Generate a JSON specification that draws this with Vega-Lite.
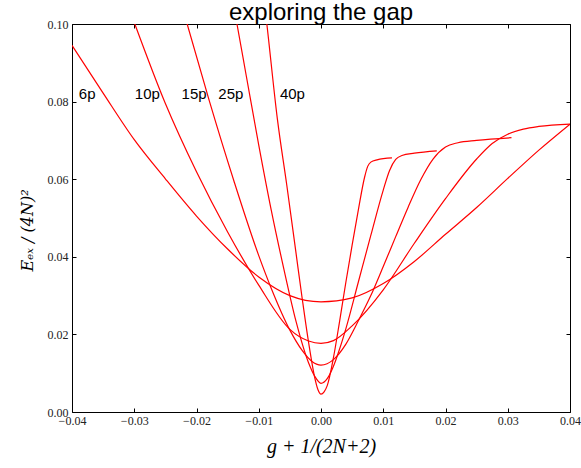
{
  "$schema": "https://vega.github.io/schema/vega-lite/v6.json",
  "width": 498,
  "height": 388,
  "autosize": {"type": "none"},
  "padding": {"left": 72, "top": 24, "right": 11, "bottom": 56},
  "background": "white",
  "config": {
    "view": {"stroke": "black", "strokeWidth": 1},
    "axis": {
      "grid": false,
      "domain": false,
      "tickSize": -4,
      "tickColor": "black",
      "minExtent": 0,
      "labelFont": "Liberation Serif",
      "labelFontSize": 12,
      "labelColor": "#222222",
      "labelFlush": false,
      "labelOverlap": false
    }
  },
  "title": {
    "text": "exploring the gap",
    "font": "Liberation Sans",
    "fontSize": 24,
    "fontWeight": "normal",
    "color": "black",
    "anchor": "middle",
    "baseline": "bottom",
    "offset": -31
  },
  "datasets": {
    "curves": [
      {"series": "6p", "x": -0.040, "y": 0.0945},
      {"series": "6p", "x": -0.035, "y": 0.0822},
      {"series": "6p", "x": -0.030, "y": 0.0702},
      {"series": "6p", "x": -0.025, "y": 0.0601},
      {"series": "6p", "x": -0.020, "y": 0.0505},
      {"series": "6p", "x": -0.015, "y": 0.0420},
      {"series": "6p", "x": -0.010, "y": 0.0348},
      {"series": "6p", "x": -0.005, "y": 0.0300},
      {"series": "6p", "x": 0.000, "y": 0.0284},
      {"series": "6p", "x": 0.005, "y": 0.0294},
      {"series": "6p", "x": 0.010, "y": 0.0331},
      {"series": "6p", "x": 0.015, "y": 0.0388},
      {"series": "6p", "x": 0.020, "y": 0.0458},
      {"series": "6p", "x": 0.025, "y": 0.0527},
      {"series": "6p", "x": 0.030, "y": 0.0602},
      {"series": "6p", "x": 0.035, "y": 0.0675},
      {"series": "6p", "x": 0.040, "y": 0.0742},

      {"series": "10p", "x": -0.032, "y": 0.1092},
      {"series": "10p", "x": -0.030, "y": 0.1004},
      {"series": "10p", "x": -0.025, "y": 0.0795},
      {"series": "10p", "x": -0.020, "y": 0.0619},
      {"series": "10p", "x": -0.015, "y": 0.0464},
      {"series": "10p", "x": -0.010, "y": 0.0327},
      {"series": "10p", "x": -0.005, "y": 0.0213},
      {"series": "10p", "x": -0.002, "y": 0.0183},
      {"series": "10p", "x": 0.000, "y": 0.0177},
      {"series": "10p", "x": 0.002, "y": 0.0184},
      {"series": "10p", "x": 0.005, "y": 0.0222},
      {"series": "10p", "x": 0.010, "y": 0.0315},
      {"series": "10p", "x": 0.015, "y": 0.0435},
      {"series": "10p", "x": 0.020, "y": 0.0550},
      {"series": "10p", "x": 0.025, "y": 0.0652},
      {"series": "10p", "x": 0.0275, "y": 0.0692},
      {"series": "10p", "x": 0.030, "y": 0.0716},
      {"series": "10p", "x": 0.0325, "y": 0.0729},
      {"series": "10p", "x": 0.035, "y": 0.0736},
      {"series": "10p", "x": 0.040, "y": 0.0742},

      {"series": "15p", "x": -0.0235, "y": 0.1115},
      {"series": "15p", "x": -0.0215, "y": 0.1000},
      {"series": "15p", "x": -0.018, "y": 0.0805},
      {"series": "15p", "x": -0.014, "y": 0.0596},
      {"series": "15p", "x": -0.010, "y": 0.0403},
      {"series": "15p", "x": -0.008, "y": 0.0319},
      {"series": "15p", "x": -0.005, "y": 0.0211},
      {"series": "15p", "x": -0.003, "y": 0.0158},
      {"series": "15p", "x": -0.0015, "y": 0.0131},
      {"series": "15p", "x": 0.000, "y": 0.0121},
      {"series": "15p", "x": 0.002, "y": 0.0135},
      {"series": "15p", "x": 0.004, "y": 0.0175},
      {"series": "15p", "x": 0.006, "y": 0.0235},
      {"series": "15p", "x": 0.008, "y": 0.0300},
      {"series": "15p", "x": 0.010, "y": 0.0375},
      {"series": "15p", "x": 0.012, "y": 0.0452},
      {"series": "15p", "x": 0.014, "y": 0.0528},
      {"series": "15p", "x": 0.016, "y": 0.0598},
      {"series": "15p", "x": 0.018, "y": 0.0652},
      {"series": "15p", "x": 0.020, "y": 0.0683},
      {"series": "15p", "x": 0.022, "y": 0.0694},
      {"series": "15p", "x": 0.025, "y": 0.0700},
      {"series": "15p", "x": 0.0306, "y": 0.0707},

      {"series": "25p", "x": -0.0145, "y": 0.1085},
      {"series": "25p", "x": -0.0135, "y": 0.1000},
      {"series": "25p", "x": -0.012, "y": 0.0866},
      {"series": "25p", "x": -0.010, "y": 0.0688},
      {"series": "25p", "x": -0.008, "y": 0.0521},
      {"series": "25p", "x": -0.006, "y": 0.0371},
      {"series": "25p", "x": -0.004, "y": 0.0233},
      {"series": "25p", "x": -0.002, "y": 0.0127},
      {"series": "25p", "x": -0.001, "y": 0.0092},
      {"series": "25p", "x": 0.000, "y": 0.0074},
      {"series": "25p", "x": 0.001, "y": 0.0086},
      {"series": "25p", "x": 0.002, "y": 0.0118},
      {"series": "25p", "x": 0.003, "y": 0.0163},
      {"series": "25p", "x": 0.004, "y": 0.0215},
      {"series": "25p", "x": 0.006, "y": 0.0335},
      {"series": "25p", "x": 0.008, "y": 0.0455},
      {"series": "25p", "x": 0.010, "y": 0.0572},
      {"series": "25p", "x": 0.011, "y": 0.0622},
      {"series": "25p", "x": 0.012, "y": 0.0651},
      {"series": "25p", "x": 0.013, "y": 0.0661},
      {"series": "25p", "x": 0.015, "y": 0.0667},
      {"series": "25p", "x": 0.0186, "y": 0.0673},

      {"series": "40p", "x": -0.0095, "y": 0.1110},
      {"series": "40p", "x": -0.0087, "y": 0.1000},
      {"series": "40p", "x": -0.007, "y": 0.0754},
      {"series": "40p", "x": -0.0055, "y": 0.0585},
      {"series": "40p", "x": -0.004, "y": 0.0408},
      {"series": "40p", "x": -0.003, "y": 0.0290},
      {"series": "40p", "x": -0.002, "y": 0.0180},
      {"series": "40p", "x": -0.001, "y": 0.0088},
      {"series": "40p", "x": -0.0005, "y": 0.0058},
      {"series": "40p", "x": 0.000, "y": 0.0046},
      {"series": "40p", "x": 0.0005, "y": 0.0052},
      {"series": "40p", "x": 0.001, "y": 0.0068},
      {"series": "40p", "x": 0.002, "y": 0.0140},
      {"series": "40p", "x": 0.003, "y": 0.0235},
      {"series": "40p", "x": 0.004, "y": 0.0335},
      {"series": "40p", "x": 0.005, "y": 0.0430},
      {"series": "40p", "x": 0.006, "y": 0.0521},
      {"series": "40p", "x": 0.007, "y": 0.0605},
      {"series": "40p", "x": 0.0075, "y": 0.0633},
      {"series": "40p", "x": 0.008, "y": 0.0644},
      {"series": "40p", "x": 0.009, "y": 0.0650},
      {"series": "40p", "x": 0.0114, "y": 0.0655}
    ],
    "labels": [
      {"label": "6p", "x": -0.0389, "y": 0.0807},
      {"label": "10p", "x": -0.0299, "y": 0.0807},
      {"label": "15p", "x": -0.0224, "y": 0.0807},
      {"label": "25p", "x": -0.0165, "y": 0.0807},
      {"label": "40p", "x": -0.0066, "y": 0.0807}
    ]
  },
  "layer": [
    {
      "data": {"name": "curves"},
      "mark": {"type": "line", "interpolate": "monotone", "clip": true, "color": "#ff0000", "strokeWidth": 1.2},
      "encoding": {
        "x": {
          "field": "x", "type": "quantitative",
          "scale": {"domain": [-0.04, 0.04], "nice": false, "zero": false},
          "axis": {
            "orient": "bottom",
            "values": [-0.04, -0.03, -0.02, -0.01, 0, 0.01, 0.02, 0.03, 0.04],
            "format": ".2f",
            "labelPadding": 7,
            "title": "g + 1/(2N+2)",
            "titleFont": "Liberation Serif",
            "titleFontStyle": "italic",
            "titleFontWeight": "normal",
            "titleFontSize": 20,
            "titleColor": "black",
            "titlePadding": 10
          }
        },
        "y": {
          "field": "y", "type": "quantitative",
          "scale": {"domain": [0, 0.1], "nice": false, "zero": false},
          "axis": {
            "orient": "left",
            "values": [0, 0.02, 0.04, 0.06, 0.08, 0.1],
            "format": ".2f",
            "labelPadding": 8,
            "title": "Eₑₓ / (4N)²",
            "titleFont": "DejaVu Serif",
            "titleFontStyle": "italic",
            "titleFontWeight": "normal",
            "titleFontSize": 16,
            "titleColor": "black",
            "titlePadding": 12,
            "titleY": 206
          }
        },
        "detail": {"field": "series"}
      }
    },
    {
      "data": {"name": "labels"},
      "mark": {"type": "text", "align": "left", "baseline": "alphabetic", "font": "Liberation Sans", "fontSize": 15, "color": "black"},
      "encoding": {
        "x": {
          "field": "x", "type": "quantitative",
          "scale": {"domain": [-0.04, 0.04], "nice": false, "zero": false},
          "axis": {"orient": "top", "values": [-0.04, -0.03, -0.02, -0.01, 0, 0.01, 0.02, 0.03, 0.04], "labels": false, "title": null}
        },
        "y": {
          "field": "y", "type": "quantitative",
          "scale": {"domain": [0, 0.1], "nice": false, "zero": false},
          "axis": {"orient": "right", "values": [0, 0.02, 0.04, 0.06, 0.08, 0.1], "labels": false, "title": null}
        },
        "text": {"field": "label"}
      }
    }
  ],
  "resolve": {"axis": {"x": "independent", "y": "independent"}}
}
